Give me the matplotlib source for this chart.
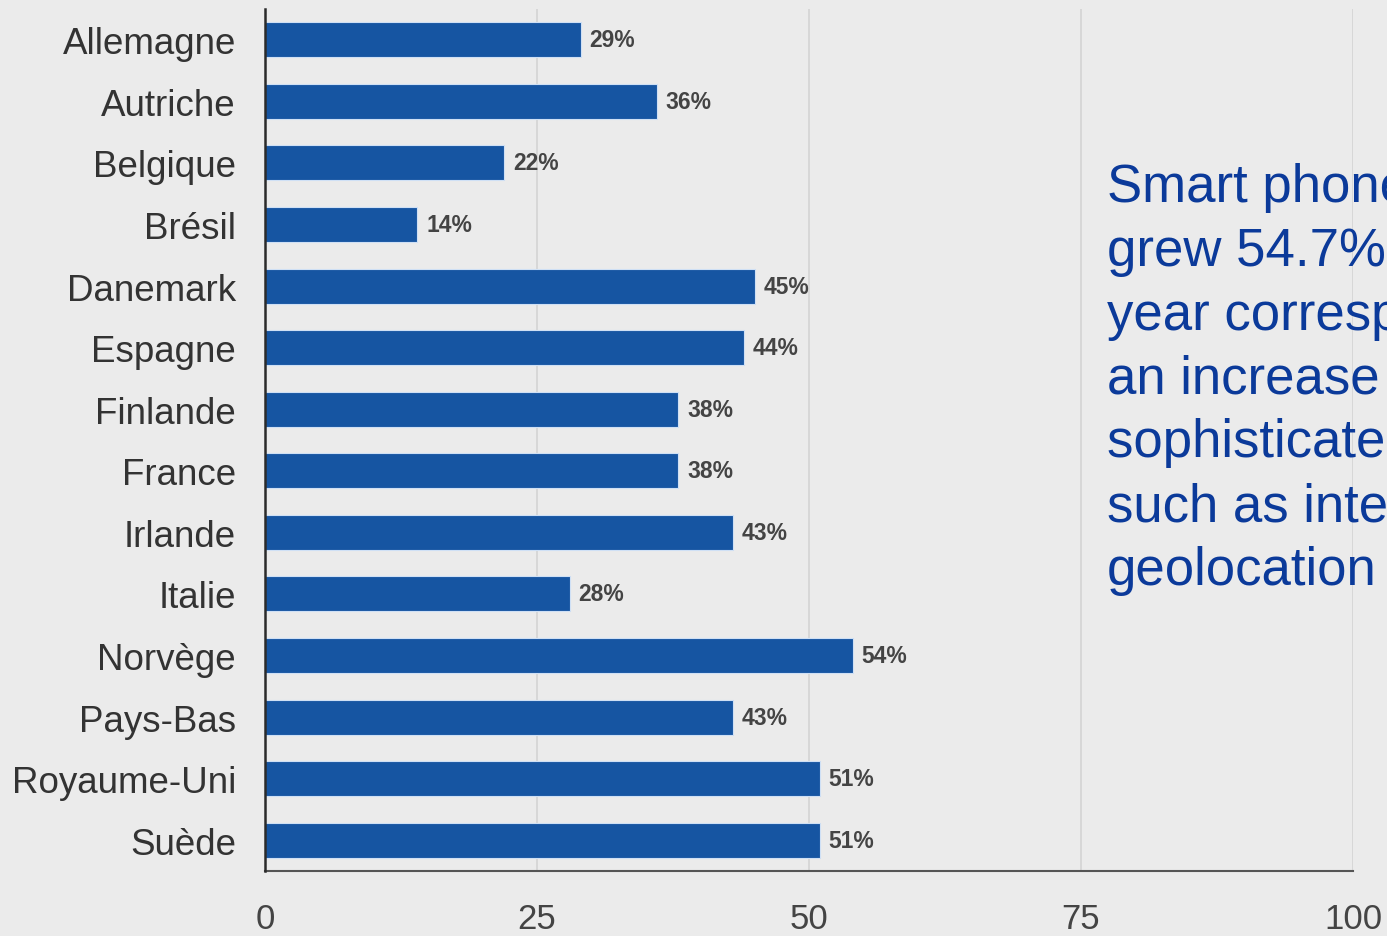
import matplotlib
matplotlib.use("Agg")
import matplotlib.pyplot as plt

# data
countries = ["Allemagne", "Autriche", "Belgique", "Brésil", "Danemark", "Espagne",
             "Finlande", "France", "Irlande", "Italie", "Norvège", "Pays-Bas",
             "Royaume-Uni", "Suède"]
shares = [29, 36, 22, 14, 45, 44, 38, 38, 43, 28, 54, 43, 51, 51]
x_ticks = [0, 25, 50, 75, 100]
note_lines = ["Smart phone usage", "grew 54.7% over the", "year corresponding to",
              "an increase in", "sophisticated uses", "such as internet and",
              "geolocation"]

bg = "#ebebeb"
bar_color = "#1655a2"
note_color = "#0b3a9a"

plt.rcParams["font.family"] = ["Liberation Sans", "DejaVu Sans"]

fig = plt.figure(figsize=(13.87, 9.37), dpi=100, facecolor=bg)
ax = fig.add_axes([0.1911, 0.0694, 0.7844, 0.9199])
ax.set_facecolor(bg)

y = list(range(len(countries)))
ax.barh(y, shares, height=0.57, color=bar_color, edgecolor="#cfe0f5",
        linewidth=0.8, zorder=3)

for yi, v in zip(y, shares):
    ax.text(v + 0.8, yi, f"{v}%", va="center", ha="left", fontsize=16.5,
            color="#444444", fontweight="semibold", zorder=4)

ax.set_ylim(len(countries) - 0.5, -0.5)
ax.set_xlim(0, 100)
ax.set_yticks(y)
ax.set_yticklabels(countries, fontsize=26.5, color="#333333")
ax.set_xticks(x_ticks)
ax.set_xticklabels([str(t) for t in x_ticks], fontsize=25, color="#444444",
                   family=["Liberation Sans Narrow", "Liberation Sans"])
ax.tick_params(axis="y", length=0, pad=21)
ax.tick_params(axis="x", length=0, pad=22)

ax.grid(axis="x", color="#d3d3d3", linewidth=1.2, zorder=0)
ax.set_axisbelow(True)
for side in ("top", "right"):
    ax.spines[side].set_visible(False)
ax.spines["left"].set_color("#2a2a2a")
ax.spines["left"].set_linewidth(1.8)
ax.spines["left"].set_zorder(5)
ax.spines["bottom"].set_color("#555555")
ax.spines["bottom"].set_linewidth(1.5)

# side note, cut off by the right edge like the original slide
x0 = 1107 / 1387
y0 = 1 - 202 / 937
dy = 63.8 / 937
for i, line in enumerate(note_lines):
    fig.text(x0, y0 - i * dy, line, fontsize=38, color=note_color,
             ha="left", va="baseline")

fig.savefig("out.png", dpi=100, facecolor=bg)
